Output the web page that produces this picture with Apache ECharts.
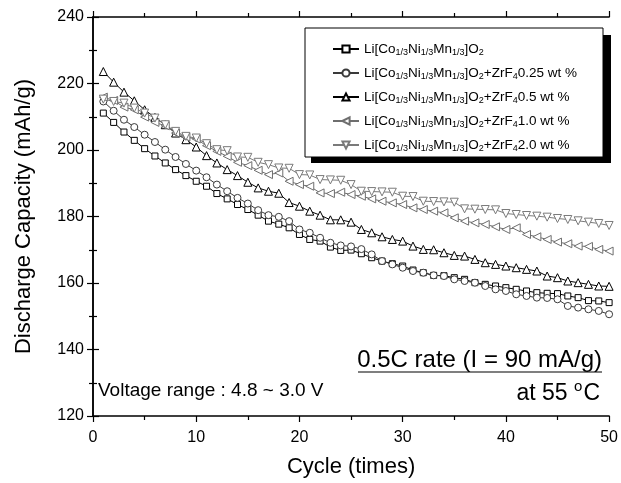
<!DOCTYPE html>
<html>
<head>
<meta charset="UTF-8">
<title>Discharge Capacity</title>
<script src="https://cdn.jsdelivr.net/npm/echarts@6/dist/echarts.min.js"></script>
<style>
	body { margin: 0; background: #fff; }
	#main { width: 621px; height: 483px; }
</style>
</head>
<body>
<div id="main"></div>
<script type="text/javascript">
	// 循环次数
	var cycles = [1, 2, 3, 4, 5, 6, 7, 8, 9, 10, 11, 12, 13, 14, 15, 16, 17, 18, 19, 20,
		21, 22, 23, 24, 25, 26, 27, 28, 29, 30, 31, 32, 33, 34, 35, 36, 37, 38, 39, 40,
		41, 42, 43, 44, 45, 46, 47, 48, 49, 50];

	// 各样品放电容量 (mAh/g)
	var bare = [211.1, 208.3, 205.4, 202.9, 200.4, 198.2, 196.1, 194.1, 192.3, 190.6,
		189.1, 186.9, 185.3, 183.6, 182.1, 180.4, 178.6, 177.7, 176.6, 174.6,
		173.1, 172.6, 170.8, 169.8, 169.9, 168.8, 167.6, 166.6, 165.8, 165.1,
		163.9, 163.1, 162.3, 162.2, 161.6, 161.1, 160.1, 159.6, 159.1, 158.6,
		158.1, 157.6, 157.1, 156.9, 156.8, 156.1, 155.6, 154.7, 154.6, 154.1];
	var zr025 = [214.6, 211.8, 209.1, 206.9, 204.6, 202.4, 200.1, 197.9, 195.8, 193.8,
		191.8, 189.6, 187.6, 185.6, 183.9, 181.9, 180.4, 179.9, 178.6, 176.1,
		175.1, 173.6, 172.1, 171.3, 171.0, 170.2, 168.6, 166.6, 165.6, 164.6,
		163.6, 163.1, 162.3, 162.1, 161.1, 160.6, 160.1, 159.1, 158.1, 157.6,
		156.6, 156.1, 155.6, 155.5, 155.1, 153.1, 152.6, 152.1, 151.6, 150.6];
	var zr05 = [223.6, 220.4, 217.4, 214.8, 212.1, 209.8, 207.6, 205.1, 203.1, 200.9,
		198.3, 196.1, 194.1, 192.3, 190.3, 188.6, 187.6, 187.0, 184.2, 183.1,
		181.6, 180.4, 179.0, 179.0, 178.3, 176.1, 175.1, 173.9, 173.1, 172.6,
		171.1, 170.1, 170.0, 169.1, 168.3, 168.1, 167.1, 166.1, 165.6, 165.1,
		164.6, 164.1, 163.6, 162.1, 161.6, 160.6, 160.1, 159.6, 159.1, 159.0];
	var zr10 = [215.9, 214.9, 212.9, 212.1, 209.9, 208.3, 207.3, 205.1, 203.9, 203.3,
		201.3, 199.6, 198.1, 196.3, 195.3, 193.9, 192.6, 193.1, 190.6, 189.6,
		189.1, 187.1, 186.9, 187.3, 186.6, 186.1, 185.3, 184.6, 184.1, 183.6,
		182.6, 182.1, 181.6, 181.1, 179.6, 178.6, 178.1, 177.6, 176.9, 176.1,
		176.6, 174.6, 173.9, 173.1, 172.3, 171.8, 171.1, 171.0, 170.1, 169.6];
	var zr20 = [215.3, 214.6, 214.1, 212.6, 211.1, 209.6, 207.6, 205.6, 204.1, 203.6,
		201.9, 200.1, 199.8, 197.9, 197.8, 196.3, 195.6, 194.6, 194.5, 192.6,
		192.5, 191.1, 191.0, 190.9, 189.6, 187.6, 187.5, 187.4, 187.3, 186.1,
		186.0, 184.6, 184.5, 184.4, 184.3, 182.3, 182.2, 182.1, 182.0, 180.9,
		180.6, 180.3, 180.1, 179.8, 179.4, 179.1, 178.7, 178.3, 177.9, 177.3];

	// 图例名称 (富文本下标)
	var names = ['s0', 's1', 's2', 's3', 's4'];
	var base = 'Li[Co{s|1/3}Ni{s|1/3}Mn{s|1/3}]O{s|2}';
	var legendText = {
		s0: base,
		s1: base + '+ZrF{s|4}0.25 wt %',
		s2: base + '+ZrF{s|4}0.5 wt %',
		s3: base + '+ZrF{s|4}1.0 wt %',
		s4: base + '+ZrF{s|4}2.0 wt %'
	};
	var xTicks = { min: 0, max: 50, interval: 10 };
	var yTicks = { min: 120, max: 240, interval: 20 };

	function pairs(arr) {
		return cycles.map(function (c, i) { return [c, arr[i]]; });
	}

	var font = 'Liberation Sans';
	var myChart = echarts.init(document.getElementById('main'));

	function makeSeries(name, arr, symbol, size, color) {
		return {
			name: name,
			type: 'line',
			data: pairs(arr),
			symbol: symbol,
			symbolSize: size,
			showAllSymbol: true,
			lineStyle: { color: color, width: 1 },
			itemStyle: { color: '#fff', borderColor: color, borderWidth: 1 },
			emphasis: { disabled: true },
			animation: false
		};
	}

	var axisCommon = {
		axisLine: { lineStyle: { color: '#000', width: 1.5 } },
		axisTick: { inside: false, length: 6, lineStyle: { color: '#000', width: 1.2 } },
		minorTick: { show: true, length: 4, lineStyle: { color: '#000', width: 1.2 } },
		splitLine: { show: false }
	};

	var option = {
		backgroundColor: '#fff',
		animation: false,
		textStyle: { fontFamily: font },
		grid: { left: 93, right: 10, top: 17, bottom: 66 },
		graphic: [
			{ type: 'rect', z: 1, shape: { x: 311, y: 35, width: 300, height: 128 }, style: { fill: '#000' } },
			{ type: 'rect', z: 1, shape: { x: 305, y: 28, width: 298, height: 129 }, style: { fill: '#fff', stroke: '#000', lineWidth: 1 } },
			{ type: 'text', left: 98, top: 381, z: 5,
				style: { text: 'Voltage range : 4.8 ~ 3.0 V', fontSize: 19, fontFamily: font, fill: '#000' } },
			{ type: 'text', x: 602, y: 360, z: 5,
				style: { text: '0.5C rate (I = 90 mA/g)', fontSize: 24, fontFamily: font, fill: '#000', align: 'right', verticalAlign: 'middle' } },
			{ type: 'line', z: 5, shape: { x1: 358, y1: 372, x2: 602, y2: 372 }, style: { stroke: '#000', lineWidth: 1.2 } },
			{ type: 'text', x: 600, y: 394, z: 5,
				style: { text: 'at 55 {sup|o}C', fontSize: 23, lineHeight: 30, fontFamily: font, fill: '#000', align: 'right', verticalAlign: 'middle',
					rich: { sup: { fontSize: 15, lineHeight: 15, fontFamily: font, verticalAlign: 'top', padding: [0, 1, 0, 0] } } } }
		],
		legend: {
			orient: 'vertical',
			left: 332,
			top: 41,
			padding: 0,
			itemWidth: 26,
			itemHeight: 9,
			itemGap: 8,
			data: names,
			formatter: function (name) { return legendText[name]; },
			textStyle: {
				fontSize: 13.5, fontFamily: font, color: '#000', lineHeight: 16,
				rich: { s: { fontSize: 9, fontFamily: font, lineHeight: 8, verticalAlign: 'bottom' } }
			}
		},
		xAxis: [
			Object.assign({}, axisCommon, {
				type: 'value', min: xTicks.min, max: xTicks.max, interval: xTicks.interval,
				minorTick: Object.assign({}, axisCommon.minorTick, { splitNumber: 2 }),
				name: 'Cycle (times)', nameLocation: 'middle', nameGap: 40,
				nameTextStyle: { fontSize: 22, color: '#000', fontFamily: font },
				axisLabel: { fontSize: 16, color: '#000', margin: 14, fontFamily: font }
			}),
			Object.assign({}, axisCommon, {
				type: 'value', position: 'top', min: xTicks.min, max: xTicks.max, interval: xTicks.interval,
				minorTick: Object.assign({}, axisCommon.minorTick, { splitNumber: 2 }),
				axisLabel: { show: false }
			})
		],
		yAxis: [
			Object.assign({}, axisCommon, {
				type: 'value', min: yTicks.min, max: yTicks.max, interval: yTicks.interval,
				minorTick: Object.assign({}, axisCommon.minorTick, { splitNumber: 2 }),
				name: 'Discharge Capacity (mAh/g)', nameLocation: 'middle', nameGap: 58,
				nameTextStyle: { fontSize: 22, color: '#000', fontFamily: font },
				axisLabel: { fontSize: 16, color: '#000', margin: 9, fontFamily: font }
			}),
			Object.assign({}, axisCommon, {
				type: 'value', position: 'right', min: yTicks.min, max: yTicks.max, interval: yTicks.interval,
				minorTick: Object.assign({}, axisCommon.minorTick, { splitNumber: 2 }),
				axisLabel: { show: false }
			})
		],
		series: [
			makeSeries('s0', bare, 'rect', 6, '#000'),
			makeSeries('s1', zr025, 'circle', 7, '#3a3a3a'),
			makeSeries('s2', zr05, 'triangle', 8, '#000'),
			makeSeries('s3', zr10, 'path://M0,5L10,0L10,10Z', 8, '#6e6e6e'),
			makeSeries('s4', zr20, 'path://M0,0L10,0L5,10Z', 8, '#7a7a7a')
		]
	};

	myChart.setOption(option);
</script>
</body>
</html>
